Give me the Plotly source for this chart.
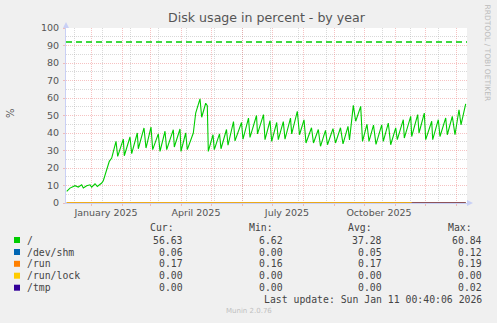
import plotly.graph_objects as go
import pandas as pd

# ---------------- data ----------------
base_date = pd.Timestamp("2025-01-01")
range_start_days = -25
range_end_days = 376

# "/" usage: days since 2025-01-01 and percent
root_days = [
    -24.3, -21, -16, -12.7, -9.3, -7.7, -4.3, -1, 0.7, 4, 6.3, 10.7, 12.3, 15.7, 18.3, 20.7,
    25, 26.7, 32.3, 33.3, 39, 40.7, 46.3, 47.3, 53, 55, 60, 61.7, 67.3, 69, 74, 75.7,
    82.3, 83.3, 89, 90, 94.7, 96.3, 102.3, 104.7, 109, 110.7, 114.7, 116.3, 117.3,
    122, 123.3, 128.5, 130, 135.5, 137, 142.5, 144, 150.5, 152, 157.5, 159, 165.5, 166.5,
    172.5, 174, 179, 180.7, 185.7, 187.3, 192.3, 194, 199.5, 200.7, 206.3, 208.5,
    213, 215, 220.5, 222.5, 227.3, 229.5, 234.5, 236.5, 242, 244.5, 249.5, 252, 257, 258.5,
    262.3, 264.7, 269.7, 271.5, 276, 278, 282.5, 285, 290.7, 292.3, 297.3, 299.7,
    304.7, 306.3, 312.3, 313.3, 319.7, 320.7, 326.7, 328, 333.3, 334.7, 340.7, 341.7,
    347.3, 349, 354.7, 356.3, 361.3, 364, 368, 370, 374.7,
]
root_values = [
    6.6, 8.5, 9.9, 9.1, 10.4, 8.6, 9.9, 10.4, 9.1, 11.0, 9.5, 11.4, 12.7, 19.0, 23.8, 25.7,
    35.2, 26.6, 36.5, 27.0, 37.7, 28.2, 40.0, 31.0, 42.9, 31.4, 43.4, 30.5, 39.5, 29.5, 41.0, 30.5,
    41.9, 32.0, 42.3, 29.5, 40.0, 30.5, 40.0, 51.4, 59.5, 49.0, 57.0, 55.6, 29.5,
    39.0, 30.5, 39.5, 31.0, 42.0, 33.0, 46.5, 35.5, 46.0, 36.5, 48.5, 37.5, 50.0, 39.5,
    50.5, 36.2, 47.0, 35.2, 46.0, 36.2, 46.5, 36.5, 48.5, 39.5, 52.4, 39.0,
    47.5, 34.3, 43.0, 34.3, 42.0, 32.4, 41.5, 33.3, 42.5, 34.3, 43.0, 33.8, 43.8, 36.0,
    55.8, 46.7, 55.2, 35.2, 45.0, 35.2, 44.5, 33.5, 44.7, 35.2, 45.7, 33.3,
    42.9, 36.2, 47.6, 37.1, 49.5, 38.0, 50.5, 40.0, 51.4, 36.2, 46.7, 36.2,
    47.6, 38.0, 48.6, 39.0, 49.5, 39.0, 53.3, 44.7, 56.6,
]

shm_days = [-24.3, 100, 200, 300, 374.7]
shm_values = [0.00, 0.05, 0.12, 0.05, 0.06]
run_days = [-24.3, 100, 200, 300, 374.7]
run_values = [0.16, 0.17, 0.19, 0.17, 0.17]
lock_days = [-24.3, 100, 200, 300, 374.7]
lock_values = [0.00, 0.00, 0.00, 0.00, 0.00]
tmp_days = [320.7, 350, 374.7]
tmp_values = [0.00, 0.02, 0.00]

warning_level = 92

series_names = ["/", "/dev/shm", "/run", "/run/lock", "/tmp"]
series_colors = ["#00CC00", "#0066B3", "#FF8000", "#FFCC00", "#330099"]
cur_vals = [56.63, 0.06, 0.17, 0.00, 0.00]
min_vals = [6.62, 0.00, 0.16, 0.00, 0.00]
avg_vals = [37.28, 0.05, 0.17, 0.00, 0.00]
max_vals = [60.84, 0.12, 0.19, 0.00, 0.02]

month_label_text = ["January 2025", "April 2025", "July 2025", "October 2025"]
month_label_dates = ["2025-01-16", "2025-04-16", "2025-07-16", "2025-10-16"]

title_text = "Disk usage in percent - by year"
last_update = "Last update: Sun Jan 11 00:40:06 2026"
munin_version = "Munin 2.0.76"
rrd_credit = "RRDTOOL / TOBI OETIKER"

# ---------------- layout geometry ----------------
W, H = 497, 323
L, R, T, B = 66, 30, 28, 120
PW = W - L - R
PH = H - T - B


def to_dates(days):
    return [base_date + pd.Timedelta(days=d) for d in days]


def px_x(p):
    return (p - L) / PW


def px_y(p):
    return (H - B - p) / PH


x0 = base_date + pd.Timedelta(days=range_start_days)
x1 = base_date + pd.Timedelta(days=range_end_days)

fig = go.Figure()

line_w = 1.1
fig.add_trace(go.Scatter(x=to_dates(root_days), y=root_values, mode="lines",
                         line=dict(color=series_colors[0], width=line_w), hoverinfo="skip"))
fig.add_trace(go.Scatter(x=to_dates(shm_days), y=shm_values, mode="lines",
                         line=dict(color=series_colors[1], width=line_w), hoverinfo="skip"))
fig.add_trace(go.Scatter(x=to_dates(run_days), y=run_values, mode="lines",
                         line=dict(color=series_colors[2], width=line_w), hoverinfo="skip"))
fig.add_trace(go.Scatter(x=to_dates(lock_days), y=lock_values, mode="lines",
                         line=dict(color=series_colors[3], width=line_w), hoverinfo="skip"))
fig.add_trace(go.Scatter(x=to_dates(tmp_days), y=tmp_values, mode="lines",
                         line=dict(color=series_colors[4], width=line_w), hoverinfo="skip"))
fig.add_trace(go.Scatter(x=[x0, x1], y=[warning_level, warning_level], mode="lines",
                         line=dict(color=series_colors[0], width=1.6, dash="6px,4px"),
                         hoverinfo="skip"))
# invisible carrier so the label axis (x2) is drawn
fig.add_trace(go.Scatter(x=[x0, x1], y=[warning_level, warning_level], mode="lines",
                         xaxis="x2", line=dict(width=0), opacity=0, hoverinfo="skip"))

major_grid = "rgba(235,120,120,0.45)"
minor_grid = "rgba(170,170,170,0.45)"
axis_col = "#C9D0F5"
tick_font = dict(family="DejaVu Sans", size=9.5, color="#555555")

month_starts = pd.date_range("2024-12-01", "2026-01-01", freq="MS")

fig.update_layout(
    width=W, height=H,
    margin=dict(l=L, r=R, t=T, b=B, pad=0),
    paper_bgcolor="#F0F0F0",
    plot_bgcolor="#FFFFFF",
    showlegend=False,
    title=dict(text=title_text, x=0.5, xref="paper", xanchor="center",
               y=1 - 18 / H, yref="container", yanchor="middle",
               font=dict(family="DejaVu Sans", size=12.6, color="#555555")),
    xaxis=dict(
        type="date", range=[x0, x1],
        tickvals=list(month_starts), ticktext=["" for _ in month_starts],
        showgrid=True, gridcolor=major_grid, griddash="1px,1px", gridwidth=1,
        ticks="outside", ticklen=2, tickcolor=major_grid,
        minor=dict(dtick=28 * 86400000, tick0="2025-01-12", showgrid=True,
                   gridcolor=minor_grid, griddash="1px,1px", ticks=""),
        showline=True, linecolor=axis_col, linewidth=1,
        zeroline=False, fixedrange=True,
    ),
    xaxis2=dict(
        type="date", range=[x0, x1], overlaying="x", anchor="y", side="bottom",
        tickvals=month_label_dates, ticktext=month_label_text,
        showgrid=False, showline=False, zeroline=False, ticks="",
        tickfont=tick_font, ticklabelstandoff=2,
    ),
    yaxis=dict(
        range=[0, 100], dtick=10, tick0=0,
        showgrid=True, gridcolor=major_grid, griddash="1px,1px", gridwidth=1,
        ticks="outside", ticklen=2, tickcolor=major_grid,
        minor=dict(dtick=5, showgrid=True, gridcolor=minor_grid, griddash="1px,1px"),
        showline=True, linecolor=axis_col, linewidth=1,
        zeroline=False, tickfont=tick_font, ticklabelstandoff=2,
    ),
)

# axis arrows
fig.add_shape(type="path", xref="paper", yref="paper", xsizemode="pixel", ysizemode="pixel",
              xanchor=0, yanchor=1, path="M -3,0 L 3,0 L 0,6 Z",
              fillcolor=axis_col, line=dict(width=0))
fig.add_shape(type="path", xref="paper", yref="paper", xsizemode="pixel", ysizemode="pixel",
              xanchor=1, yanchor=0, path="M 0,-3 L 0,3 L 6,0 Z",
              fillcolor=axis_col, line=dict(width=0))

ann = []
ann.append(dict(text="%", x=px_x(10), y=px_y(113), xref="paper", yref="paper",
                showarrow=False, textangle=-90, xanchor="center", yanchor="middle",
                font=dict(family="DejaVu Sans", size=10, color="#555555")))
ann.append(dict(text=rrd_credit, x=px_x(487.5), y=px_y(53), xref="paper", yref="paper",
                showarrow=False, textangle=90, xanchor="center", yanchor="middle",
                font=dict(family="DejaVu Sans", size=7.5, color="#BBBBBB")))

mono = dict(family="DejaVu Sans Mono", size=9.8, color="#444444")
header_y = 227.3
for txt, xs in zip(["Cur:", "Min:", "Avg:", "Max:"], [149.3, 248.3, 347.3, 446.7]):
    ann.append(dict(text=txt, x=px_x(xs), y=px_y(header_y), xref="paper", yref="paper",
                    showarrow=False, xanchor="left", yanchor="middle", borderpad=0, font=mono))

row_ys = [240, 252, 263.8, 275.7, 287.7]
col_right = [184.3, 284, 383.3, 482.7]
for i, name in enumerate(series_names):
    yc = row_ys[i]
    fig.add_shape(type="rect", xref="paper", yref="paper",
                  x0=px_x(14), x1=px_x(20), y0=px_y(yc + 3), y1=px_y(yc - 3),
                  fillcolor=series_colors[i], line=dict(width=0))
    ann.append(dict(text=name, x=px_x(26), y=px_y(yc), xref="paper", yref="paper",
                    showarrow=False, xanchor="left", yanchor="middle", borderpad=0, font=mono))
    for vals, xr in zip([cur_vals, min_vals, avg_vals, max_vals], col_right):
        ann.append(dict(text=f"{vals[i]:.2f}", x=px_x(xr), y=px_y(yc), xref="paper", yref="paper",
                        showarrow=False, xanchor="right", yanchor="middle", borderpad=0, font=mono))

ann.append(dict(text=last_update, x=px_x(482.7), y=px_y(299.7), xref="paper", yref="paper",
                showarrow=False, xanchor="right", yanchor="middle", borderpad=0, font=mono))
ann.append(dict(text=munin_version, x=px_x(248.5), y=px_y(311.3), xref="paper", yref="paper",
                showarrow=False, xanchor="center", yanchor="middle", borderpad=0,
                font=dict(family="DejaVu Sans", size=7, color="#C0C0C0")))

fig.update_layout(annotations=ann)

fig.write_html("out.html", config=dict(displayModeBar=False, staticPlot=True))
